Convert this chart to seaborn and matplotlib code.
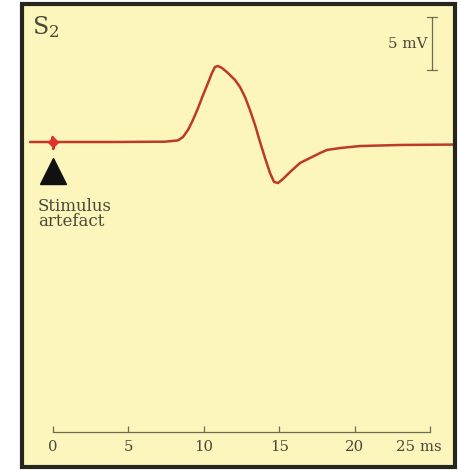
import matplotlib
matplotlib.use("Agg")
import numpy as np
import pandas as pd
import seaborn as sns
import matplotlib.pyplot as plt
from matplotlib.patches import Rectangle
from matplotlib.transforms import ScaledTranslation

# ---- data ----
time_ms = [-1.52, -0.06, -0.02, 0.0, 0.02, 0.06, 4.0, 7.43, 8.29, 8.62, 8.95, 9.28,
           9.62, 9.95, 10.28, 10.54, 10.74, 10.94, 11.21, 11.6, 12.07, 12.4,
           12.73, 13.06, 13.4, 13.73, 14.06, 14.39, 14.66, 14.92, 15.25, 15.72,
           16.38, 17.04, 17.71, 18.17, 19.03, 20.36, 23.01, 26.8]
voltage_mV = [0.0, 0.0, 0.47, 0.0, -0.66, 0.0, 0.0, 0.03, 0.15, 0.47, 1.13, 2.08,
              3.21, 4.43, 5.57, 6.51, 7.08, 7.17, 6.98, 6.51, 5.85, 5.19,
              4.25, 3.02, 1.6, 0.0, -1.51, -2.92, -3.77, -3.87, -3.49, -2.83,
              -1.98, -1.51, -1.04, -0.75, -0.57, -0.38, -0.28, -0.24]
stimulus_time_ms = [0.0]
tick_values = [0, 5, 10, 15, 20, 25]
tick_labels = ["0", "5", "10", "15", "20", "25 ms"]
scale_bar_mV = 5
panel_label = "S$_2$"
stim_label = "Stimulus\nartefact"
scale_label = "5 mV"

sns.set_theme(style="white")
plt.rcParams["font.family"] = ["DejaVu Serif"]
plt.rcParams["mathtext.fontset"] = "dejavuserif"

bg = "#fcf6bd"
frame_col = "#26261e"
txt_col = "#4a4838"
axis_col = "#6e6c52"
trace_col = "#bd3a26"

W, H = 461, 470
fig = plt.figure(figsize=(W / 100, H / 100), dpi=100)
fig.patch.set_facecolor("white")

# frame in pixel terms
fl, fr, ft, fb = 22, 455, 4, 467
ax = fig.add_axes([fl / W, 1 - fb / H, (fr - fl) / W, (fb - ft) / H])
ax.set_facecolor(bg)
ax.add_patch(Rectangle((0, 0), 1, 1, transform=ax.transAxes, facecolor="none",
                       edgecolor=frame_col, linewidth=3, zorder=10, clip_on=False))

px_per_ms = 15.08
px_per_mV = 10.6
x0_px, base_px = 53, 142
ax.set_xlim((fl - x0_px) / px_per_ms, (fr - x0_px) / px_per_ms)
ax.set_ylim((base_px - fb) / px_per_mV, (base_px - ft) / px_per_mV)

df = pd.DataFrame({"t": time_ms, "v": voltage_mV})
sns.lineplot(data=df, x="t", y="v", ax=ax, color=trace_col, linewidth=1.8,
             estimator=None, sort=False)
ax.plot(stimulus_time_ms, [0], marker="D", color="#e2302c", markersize=5, zorder=5,
        linestyle="none")

# stimulus marker triangle
axis_v = (base_px - 432) / px_per_mV
ax.plot(stimulus_time_ms, [(base_px - 170.5) / px_per_mV], marker="^", color="#111111",
        markersize=19, linestyle="none")
ax.text(-1.0, (base_px - 198) / px_per_mV, stim_label, color=txt_col, fontsize=12,
        ha="left", va="top", linespacing=0.88)

# time axis
for s in ["left", "right", "top"]:
    ax.spines[s].set_visible(False)
ax.spines["bottom"].set_position(("data", axis_v))
ax.spines["bottom"].set_bounds(0, 25)
ax.spines["bottom"].set_color(axis_col)
ax.spines["bottom"].set_linewidth(0.9)
ax.set_xticks(tick_values)
ax.set_xticklabels(tick_labels)
ax.tick_params(axis="x", direction="in", length=4, width=0.9, color=axis_col,
               labelcolor=txt_col, labelsize=10.7, pad=5.5, bottom=True)
ax.set_yticks([])
ax.set_xlabel("")
ax.set_ylabel("")
lbl = ax.get_xticklabels()[-1]
lbl.set_transform(lbl.get_transform() + ScaledTranslation(-11 / 100, 0, fig.dpi_scale_trans))

# scale bar
sb_x = (432 - x0_px) / px_per_ms
sb_top = (base_px - 17) / px_per_mV
ax.plot([sb_x, sb_x], [sb_top - scale_bar_mV, sb_top], color=axis_col, linewidth=0.9)
cap = 5 / px_per_ms
for yv in [sb_top - scale_bar_mV, sb_top]:
    ax.plot([sb_x - cap, sb_x + cap], [yv, yv], color=axis_col, linewidth=0.9)
ax.text(sb_x - 0.3, sb_top - scale_bar_mV / 2, scale_label, color=txt_col,
        fontsize=10.8, ha="right", va="center")

# panel label
fig.text(32 / W, 1 - 34 / H, panel_label, color=txt_col, fontsize=17, ha="left",
         va="baseline")

fig.savefig("out.png", dpi=100)
